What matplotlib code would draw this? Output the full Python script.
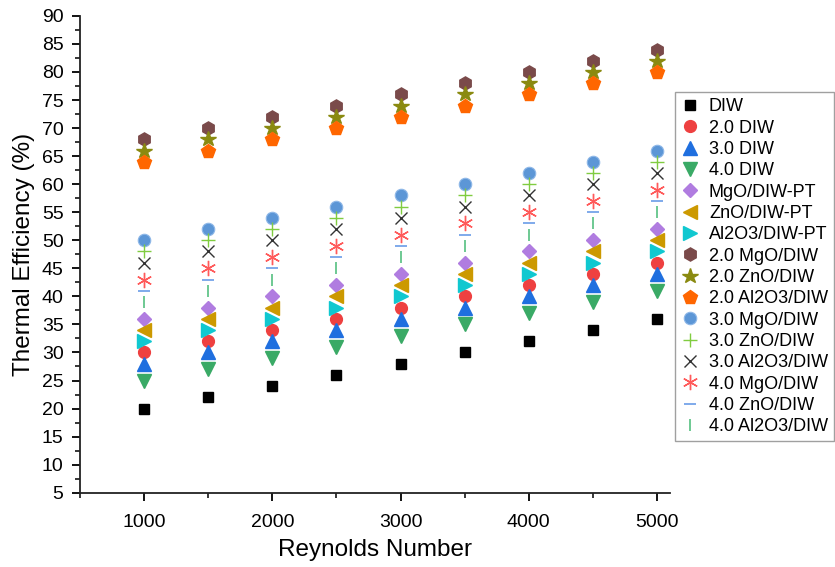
import matplotlib.pyplot as plt
from matplotlib.ticker import MultipleLocator

plt.rcParams['font.family'] = ['Liberation Sans', 'DejaVu Sans']

# ── data ─────────────────────────────
reynolds = [1000, 1500, 2000, 2500, 3000, 3500, 4000, 4500, 5000]

diw        = [20, 22, 24, 26, 28, 30, 32, 34, 36]
diw_20     = [30, 32, 34, 36, 38, 40, 42, 44, 46]
diw_30     = [28, 30, 32, 34, 36, 38, 40, 42, 44]
diw_40     = [25, 27, 29, 31, 33, 35, 37, 39, 41]
mgo_pt     = [36, 38, 40, 42, 44, 46, 48, 50, 52]
zno_pt     = [34, 36, 38, 40, 42, 44, 46, 48, 50]
al2o3_pt   = [32, 34, 36, 38, 40, 42, 44, 46, 48]
mgo_20     = [68, 70, 72, 74, 76, 78, 80, 82, 84]
zno_20     = [66, 68, 70, 72, 74, 76, 78, 80, 82]
al2o3_20   = [64, 66, 68, 70, 72, 74, 76, 78, 80]
mgo_30     = [50, 52, 54, 56, 58, 60, 62, 64, 66]
zno_30     = [48, 50, 52, 54, 56, 58, 60, 62, 64]
al2o3_30   = [46, 48, 50, 52, 54, 56, 58, 60, 62]
mgo_40     = [43, 45, 47, 49, 51, 53, 55, 57, 59]
zno_40     = [41, 43, 45, 47, 49, 51, 53, 55, 57]
al2o3_40   = [39, 41, 43, 45, 47, 49, 51, 53, 55]

labels = ["DIW", "2.0 DIW", "3.0 DIW", "4.0 DIW", "MgO/DIW-PT", "ZnO/DIW-PT",
          "Al2O3/DIW-PT", "2.0 MgO/DIW", "2.0 ZnO/DIW", "2.0 Al2O3/DIW",
          "3.0 MgO/DIW", "3.0 ZnO/DIW", "3.0 Al2O3/DIW", "4.0 MgO/DIW",
          "4.0 ZnO/DIW", "4.0 Al2O3/DIW"]
series = [diw, diw_20, diw_30, diw_40, mgo_pt, zno_pt, al2o3_pt, mgo_20, zno_20,
          al2o3_20, mgo_30, zno_30, al2o3_30, mgo_40, zno_40, al2o3_40]

# ── styles ─────────────────────────────
styles = [
    dict(marker='s', color='black', ms=7.5),
    dict(marker='o', color='#EE4040', ms=8.5),
    dict(marker='^', color='#1F6FDF', ms=9.5),
    dict(marker='v', color='#3AAA66', ms=9.5),
    dict(marker='D', color='#B07CE0', ms=7.5),
    dict(marker='<', color='#CC9900', ms=9.5),
    dict(marker='>', color='#10C8D0', ms=9.5),
    dict(marker='h', color='#7A4A4A', ms=9.5),
    dict(marker='*', color='#8A8A10', ms=11.5),
    dict(marker='p', color='#FF6600', ms=10),
    dict(marker='o', color='#5C96D6', ms=9, mec='#8FB8E8', mew=0.8),
    dict(marker='+', color='#80CC40', ms=10, mew=1.0),
    dict(marker='x', color='#333333', ms=9, mew=1.0),
    dict(marker=(6, 2, 0), color='#FF5A5A', ms=11, mew=1.0),
    dict(marker='_', color='#6A9CE8', ms=9, mew=1.2),
    dict(marker='|', color='#55C080', ms=9, mew=1.2),
]

fig = plt.figure(figsize=(8.35, 5.67), dpi=100)
ax = fig.add_axes([0.096, 0.131, 0.706, 0.841])

for y, lab, st in zip(series, labels, styles):
    ax.plot(reynolds, y, ls='none', label=lab, **st)

ax.set_xlim(500, 5100)
ax.set_ylim(5, 90)
ax.xaxis.set_major_locator(MultipleLocator(1000))
ax.xaxis.set_minor_locator(MultipleLocator(500))
ax.yaxis.set_major_locator(MultipleLocator(5))
ax.yaxis.set_minor_locator(MultipleLocator(2.5))
ax.spines['top'].set_visible(False)
ax.spines['right'].set_visible(False)
for s in ('left', 'bottom'):
    ax.spines[s].set_linewidth(1.3)
    ax.spines[s].set_color('#222222')
ax.tick_params(which='major', direction='out', length=6, width=1.3, labelsize=14, pad=6)
ax.tick_params(axis='x', which='major', pad=9)
ax.tick_params(which='minor', direction='out', length=3.5, width=1.1)

ax.set_xlabel("Reynolds Number", fontsize=17.5, labelpad=6)
ax.set_ylabel("Thermal Efficiency (%)", fontsize=17.5, labelpad=5)

leg = ax.legend(loc='upper left', bbox_to_anchor=(0.808, 0.838), bbox_transform=fig.transFigure,
                fontsize=13, frameon=True, fancybox=False, edgecolor='#888888',
                borderpad=0.35, labelspacing=0.24, handletextpad=0.55, handlelength=1.0,
                borderaxespad=0)
leg.get_frame().set_linewidth(1.0)

plt.savefig("out.png", dpi=100)
